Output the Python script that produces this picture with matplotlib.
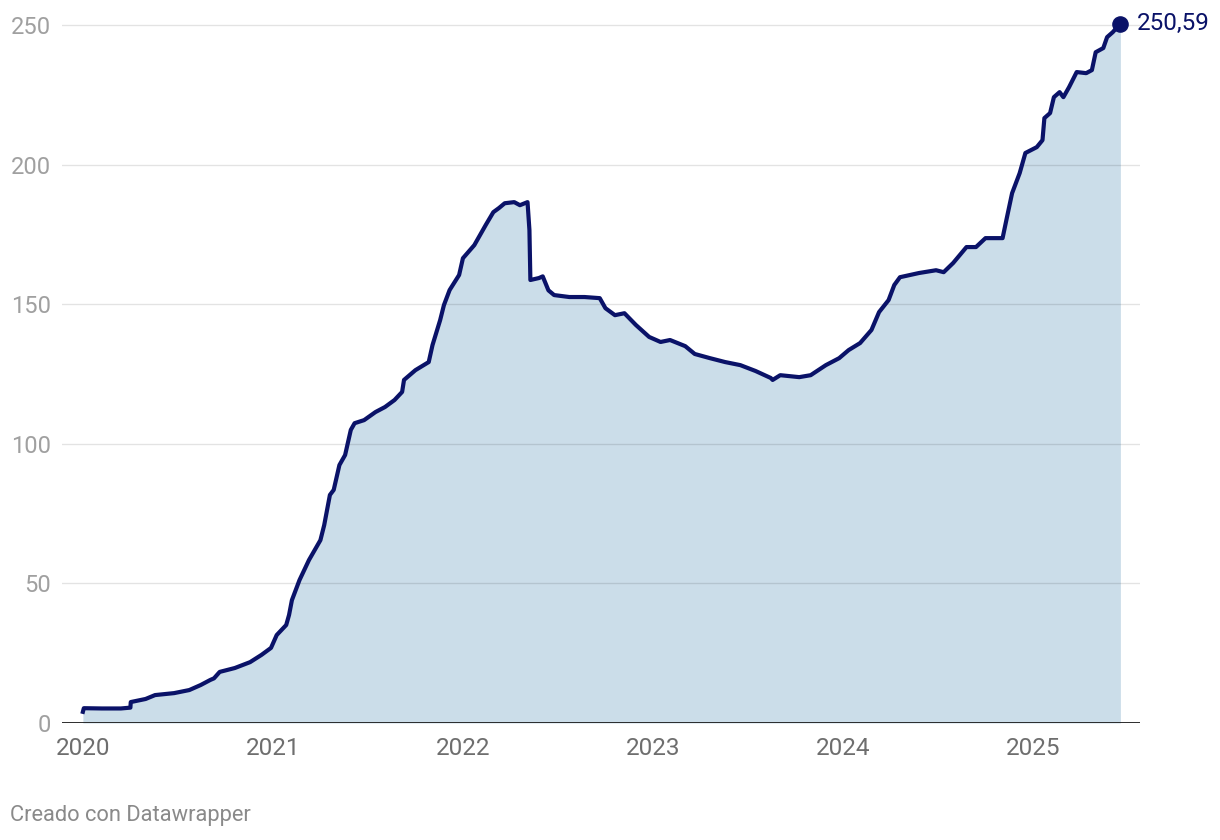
import numpy as np
import matplotlib.pyplot as plt

plt.rcParams['font.family'] = ['Roboto', 'DejaVu Sans']

# decimal year / value
t = [2020.0, 2020.005, 2020.1, 2020.2, 2020.25, 2020.252, 2020.33, 2020.38, 2020.48,
     2020.56, 2020.62, 2020.67, 2020.69, 2020.72, 2020.8, 2020.88, 2020.94, 2020.99,
     2021.02, 2021.07, 2021.085, 2021.1, 2021.14, 2021.19, 2021.25, 2021.27, 2021.3,
     2021.32, 2021.35, 2021.38, 2021.41, 2021.43, 2021.48, 2021.54, 2021.59, 2021.64,
     2021.68, 2021.69, 2021.75, 2021.82, 2021.84, 2021.88, 2021.9, 2021.93, 2021.98,
     2022.0, 2022.06, 2022.12, 2022.16, 2022.19, 2022.22, 2022.27, 2022.3, 2022.34,
     2022.35, 2022.355, 2022.4, 2022.42, 2022.45, 2022.48, 2022.56, 2022.64, 2022.72,
     2022.75, 2022.8, 2022.85, 2022.91, 2022.98, 2023.04, 2023.09, 2023.17, 2023.22,
     2023.3, 2023.38, 2023.46, 2023.54, 2023.62, 2023.63, 2023.67, 2023.77, 2023.83,
     2023.91, 2023.98, 2024.03, 2024.09, 2024.15, 2024.19, 2024.24, 2024.27, 2024.3,
     2024.4, 2024.49, 2024.53, 2024.58, 2024.65, 2024.7, 2024.75, 2024.84, 2024.86,
     2024.89, 2024.93, 2024.96, 2025.02, 2025.05, 2025.06, 2025.09, 2025.11, 2025.14,
     2025.16, 2025.19, 2025.23, 2025.28, 2025.31, 2025.33, 2025.37, 2025.39, 2025.42,
     2025.46]
v = [4.0, 5.3, 5.2, 5.2, 5.5, 7.5, 8.6, 10.0, 10.7,
     11.8, 13.6, 15.4, 16.0, 18.3, 19.7, 21.8, 24.4, 26.9,
     31.5, 35.1, 38.7, 44.0, 51.2, 58.4, 65.5, 70.9, 81.7,
     83.5, 92.4, 96.0, 105.0, 107.4, 108.5, 111.4, 113.2, 115.7,
     118.6, 122.9, 126.4, 129.3, 135.4, 144.3, 149.7, 155.1, 160.5,
     166.5, 171.2, 178.4, 183.0, 184.5, 186.2, 186.6, 185.5, 186.6,
     176.6, 158.7, 159.4, 160.0, 155.0, 153.3, 152.6, 152.6, 152.2,
     148.6, 146.1, 146.8, 142.6, 138.3, 136.5, 137.2, 135.0, 132.2,
     130.7, 129.3, 128.2, 126.1, 123.6, 122.9, 124.6, 123.9, 124.6,
     128.2, 130.7, 133.6, 136.1, 140.8, 147.2, 151.5, 156.9, 159.7,
     161.2, 162.2, 161.5, 164.8, 170.5, 170.5, 173.7, 173.7, 180.2,
     189.8, 197.0, 204.2, 206.3, 208.8, 216.7, 218.5, 224.2, 226.0,
     224.2, 227.8, 233.2, 232.8, 233.9, 240.3, 241.8, 245.7, 247.5,
     250.59]

yticks = [0, 50, 100, 150, 200, 250]
years = [2020, 2021, 2022, 2023, 2024, 2025]
last_label = "250,59"

navy = "#0a1268"
fig = plt.figure(figsize=(12.2, 8.4), dpi=100)
ax = fig.add_axes([0.0508, 0.1393, 0.8836, 0.8487])

ax.fill_between(t, v, 0, color="#cbdde9", lw=0, zorder=1)
ax.plot(t, v, color=navy, lw=3, solid_joinstyle="round", zorder=3)
ax.scatter([t[-1]], [v[-1]], s=120, color=navy, zorder=4, clip_on=False)
ax.text(t[-1] + 0.088, v[-1], last_label, color=navy, fontsize=17.5,
        va="center", ha="left")

ax.set_xlim(2019.89, 2025.563)
ax.set_ylim(0, 255.4)
ax.set_yticks(yticks)
ax.set_yticklabels([str(y) for y in yticks])
ax.set_xticks(years)
ax.set_xticklabels([str(y) for y in years])
ax.tick_params(axis="y", length=0, pad=8, labelsize=17, labelcolor="#a0a0a0")
ax.tick_params(axis="x", length=0, pad=10, labelsize=17.5, labelcolor="#6e6e6e")

for y in yticks[1:]:
    ax.axhline(y, color="black", alpha=0.11, lw=1, zorder=2)
ax.axhline(0, color="#1a1a1a", lw=2, zorder=5)

for s in ax.spines.values():
    s.set_visible(False)

fig.text(10 / 1220, 1 - 816 / 840, "Creado con Datawrapper", fontsize=15.75,
         color="#8a8a8a", va="center", ha="left")

fig.savefig("out.png", dpi=100)
